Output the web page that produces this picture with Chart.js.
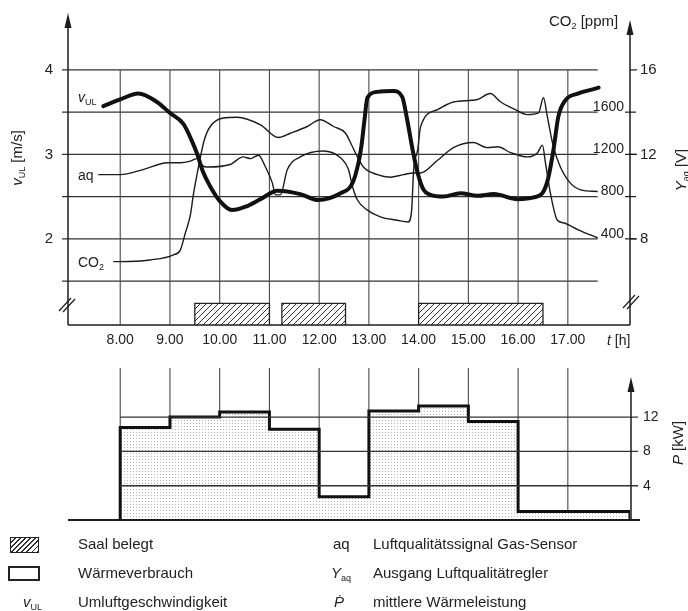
<!DOCTYPE html>
<html lang="de">
<head>
<meta charset="utf-8">
<title>Umluftgeschwindigkeit, Luftqualität und Wärmeverbrauch</title>
<script src="https://cdn.jsdelivr.net/npm/chart.js@4.4.1/dist/chart.umd.min.js"></script>
<style>
  body { margin: 0; background: #fff; }
  #wrap { position: relative; width: 688px; height: 611px; overflow: hidden;
          font-family: "Liberation Sans", Arial, sans-serif; color: #222; }
  canvas { position: absolute; left: 0; }
  .t { position: absolute; white-space: nowrap; font-size: 15px; line-height: 16px; }
  .rot { position: absolute; white-space: nowrap; font-size: 15px; line-height: 16px;
         transform: translate(-50%, -50%) rotate(-90deg); }
  sub { font-size: 9px; vertical-align: -3px; line-height: 0; }
  i { font-style: italic; }
  .box { position: absolute; box-sizing: border-box; border: 2px solid #222; }
</style>
</head>
<body>
<div id="wrap">
  <canvas id="top-chart" width="688" height="350" style="top:0"></canvas>
  <canvas id="heat-chart" width="688" height="190" style="top:350px"></canvas>

  <!-- Achsentitel -->
  <div class="rot" style="left:17px; top:158px"><i>v</i><sub>UL</sub> [m/s]</div>
  <div class="rot" style="left:681px; top:170px"><i>Y</i><sub>aq</sub> [V]</div>
  <div class="rot" style="left:678px; top:443px"><i>P</i> [kW]</div>
  <div class="t" style="left:549px; top:13px">CO<sub>2</sub> [ppm]</div>
  <div class="t" style="left:607px; top:332px; font-size:14px"><i>t</i> [h]</div>

  <!-- Kurvenbeschriftungen -->
  <div class="t" style="left:78px; top:89px; font-size:14px"><i>v</i><sub>UL</sub></div>
  <div class="t" style="left:78px; top:167px; font-size:14px">aq</div>
  <div class="t" style="left:78px; top:254px; font-size:14px">CO<sub>2</sub></div>

  <!-- Legende -->
  <div class="box" style="left:10px; top:537px; width:29px; height:16px; border-width:1.5px;
       background:repeating-linear-gradient(135deg, #fff 0 2.5px, #333 2.5px 3.6px)"></div>
  <div class="t" style="left:78px; top:536px">Saal belegt</div>
  <div class="box" style="left:8px; top:566px; width:32px; height:15px"></div>
  <div class="t" style="left:78px; top:565px">Wärmeverbrauch</div>
  <div class="t" style="left:23px; top:594px"><i>v</i><sub>UL</sub></div>
  <div class="t" style="left:78px; top:594px">Umluftgeschwindigkeit</div>

  <div class="t" style="left:333px; top:536px">aq</div>
  <div class="t" style="left:373px; top:536px">Luftqualitätssignal Gas-Sensor</div>
  <div class="t" style="left:331px; top:565px"><i>Y</i><sub>aq</sub></div>
  <div class="t" style="left:373px; top:565px">Ausgang Luftqualitätregler</div>
  <div class="t" style="left:334px; top:594px"><i>Ṗ</i></div>
  <div class="t" style="left:373px; top:594px">mittlere Wärmeleistung</div>
</div>

<script>
// Daten
const hourTicks = [8, 9, 10, 11, 12, 13, 14, 15, 16, 17];
const vTicks = [2, 3, 4];
const gridV = [1.5, 2, 2.5, 3, 3.5, 4];
const yaqTicks = [8, 12, 16];
const co2Ticks = [400, 800, 1200, 1600];
const pTicks = [4, 8, 12];

// Umluftgeschwindigkeit v_UL [m/s]
const vulTime = [7.66, 8.0, 8.36, 8.74, 9.0, 9.27, 9.44, 9.55, 9.66, 9.81, 10.0, 10.25, 10.52, 10.82,
  11.16, 11.62, 11.98, 12.43, 12.67, 12.79, 12.85, 12.91, 12.97, 13.17, 13.49, 13.67, 13.77, 13.88,
  13.98, 14.1, 14.24, 14.5, 14.84, 15.18, 15.51, 15.99, 16.31, 16.51, 16.61, 16.71, 16.81, 16.95,
  17.2, 17.5, 17.62];
const vulValue = [3.57, 3.65, 3.72, 3.62, 3.49, 3.36, 3.16, 3.0, 2.8, 2.62, 2.45, 2.34, 2.38, 2.47,
  2.57, 2.53, 2.46, 2.54, 2.66, 2.9, 3.1, 3.4, 3.67, 3.74, 3.75, 3.68, 3.41, 3.05,
  2.78, 2.58, 2.52, 2.5, 2.54, 2.51, 2.53, 2.47, 2.49, 2.56, 2.73, 3.05, 3.45, 3.64,
  3.72, 3.77, 3.79];

// Luftqualitätssignal aq [V]
const aqTime = [7.56, 8.0, 8.46, 8.95, 9.21, 9.41, 9.55, 9.65, 9.75, 10.21, 10.47, 10.62, 10.78,
  10.92, 11.06, 11.12, 11.22, 11.36, 11.62, 12.08, 12.43, 12.59, 12.67, 12.77, 12.97, 13.23, 13.57,
  13.79, 13.86, 13.9, 13.98, 14.04, 14.38, 14.7, 15.18, 15.44, 15.65, 15.91, 16.19, 16.41, 16.51,
  16.59, 16.71, 16.85, 17.05, 17.26, 17.6];
const aqValue = [11.04, 11.04, 11.28, 11.6, 11.6, 11.68, 11.8, 11.48, 11.4, 11.52, 11.88, 11.8, 11.96,
  11.4, 10.64, 10.08, 10.08, 11.28, 11.88, 12.16, 11.84, 11.28, 10.48, 9.84, 9.36, 9.04, 8.88,
  8.8, 9.36, 11.28, 12.2, 13.32, 14.12, 14.48, 14.6, 14.88, 14.48, 14.16, 13.88, 13.96, 14.68,
  13.76, 12.36, 11.4, 10.64, 10.32, 10.24];

// CO2 [ppm]
const co2Time = [7.86, 8.0, 8.6, 9.07, 9.21, 9.31, 9.41, 9.47, 9.55, 9.61, 9.69, 9.81, 10.07, 10.35,
  10.82, 11.18, 11.42, 11.76, 12.02, 12.29, 12.53, 12.67, 12.77, 12.89, 13.17, 13.43, 13.69, 13.9,
  14.04, 14.38, 14.7, 15.1, 15.38, 15.59, 15.85, 16.19, 16.39, 16.49, 16.55, 16.65, 16.79, 16.91,
  17.2, 17.6];
const co2Value = [184, 184, 200, 248, 296, 456, 624, 816, 1024, 1168, 1336, 1464, 1544, 1552,
  1480, 1360, 1400, 1464, 1528, 1464, 1400, 1272, 1176, 1080, 1008, 984, 1008, 1024,
  1024, 1144, 1264, 1312, 1264, 1272, 1216, 1176, 1216, 1288, 1120, 832, 576, 552,
  488, 408];

// Saal belegt
const occStart = [9.5, 11.25, 14.0];
const occEnd = [11.0, 12.53, 16.5];

// mittlere Wärmeleistung P [kW] je Stunde
const heatStart = [8, 9, 10, 11, 12, 13, 14, 15, 16, 17];
const heatValue = [6.3, 10.8, 12.0, 12.6, 10.6, 2.7, 12.7, 13.3, 11.5, 1.0];
const heatEnd = 18.25;

// Skalen
const HOUR_MIN = 6.95, HOUR_MAX = 18.25;
const V_MIN = 0.98, V_MAX = 4.65;
// CO2 und Y_aq liegen auf demselben Raster: ppm = 800 v - 1200, V = 4 v
const CO2_MIN = 800 * V_MIN - 1200, CO2_MAX = 800 * V_MAX - 1200;
const YAQ_MIN = 4 * V_MIN, YAQ_MAX = 4 * V_MAX;
const GRID_END = 17.6;
const OCC_TOP = 1.235;
const P_MAX = 17.73;
const INK = "#1c1c1c";

Chart.defaults.font.family = '"Liberation Sans", Arial, sans-serif';
Chart.defaults.color = "#222";
Chart.defaults.animation = false;

function pts(xs, ys) {
  return xs.map((x, i) => ({ x: x, y: ys[i] }));
}

// feste Achsbreite, keine zusätzliche Beschriftungs-Polsterung
function fixWidth(w) {
  return (s) => {
    s.width = w;
    s.paddingTop = 0;
    s.paddingBottom = 0;
  };
}

function makePattern(size, draw) {
  const c = document.createElement("canvas");
  c.width = size;
  c.height = size;
  draw(c.getContext("2d"));
  return c.getContext("2d").createPattern(c, "repeat");
}

const hatch = makePattern(6, (g) => {
  g.fillStyle = "#fff";
  g.fillRect(0, 0, 6, 6);
  g.strokeStyle = "#333";
  g.lineWidth = 1;
  g.beginPath();
  g.moveTo(0, 6); g.lineTo(6, 0);
  g.moveTo(-3, 3); g.lineTo(3, -3);
  g.moveTo(3, 9); g.lineTo(9, 3);
  g.stroke();
});

const dots = makePattern(3, (g) => {
  g.fillStyle = "#fff";
  g.fillRect(0, 0, 3, 3);
  g.fillStyle = "#b4b4b4";
  g.fillRect(1, 1, 1, 1);
});

function line(ctx, x1, y1, x2, y2) {
  ctx.beginPath();
  ctx.moveTo(x1, y1);
  ctx.lineTo(x2, y2);
  ctx.stroke();
}

function arrowUp(ctx, x, yFrom, yTip) {
  line(ctx, x, yFrom, x, yTip + 8);
  ctx.beginPath();
  ctx.moveTo(x, yTip);
  ctx.lineTo(x - 3.5, yTip + 15);
  ctx.lineTo(x + 3.5, yTip + 15);
  ctx.closePath();
  ctx.fill();
}

function breakMark(ctx, x, y) {
  ctx.save();
  ctx.lineWidth = 1.2;
  line(ctx, x - 9, y + 6, x + 3, y - 7);
  line(ctx, x - 5, y + 7, x + 7, y - 6);
  ctx.restore();
}

// Raster, Achsen und CO2-Skala oben
const topDecor = {
  id: "topDecor",
  beforeDatasetsDraw(chart) {
    const { ctx, chartArea: a, scales: { x, y } } = chart;
    ctx.save();
    ctx.strokeStyle = "#333";
    ctx.lineWidth = 1.4;
    const xEnd = x.getPixelForValue(GRID_END);
    gridV.forEach((v) => {
      const py = y.getPixelForValue(v);
      line(ctx, a.left - 6, py, xEnd, py);
    });
    ctx.strokeStyle = "#4a4a4a";
    ctx.lineWidth = 1.1;
    hourTicks.forEach((h) => {
      const px = x.getPixelForValue(h);
      line(ctx, px, y.getPixelForValue(4), px, a.bottom);
    });
    ctx.restore();
  },
  afterDatasetsDraw(chart) {
    const { ctx, chartArea: a, scales: { yC, yY } } = chart;
    ctx.save();
    ctx.strokeStyle = INK;
    ctx.fillStyle = INK;
    ctx.lineWidth = 1.5;
    arrowUp(ctx, a.left, a.bottom, a.top - 2);
    arrowUp(ctx, a.right, a.bottom, a.top + 5);
    line(ctx, a.left, a.bottom, a.right, a.bottom);
    breakMark(ctx, a.left, a.bottom - 20);
    breakMark(ctx, a.right + 2, a.bottom - 23);

    ctx.lineWidth = 1.2;
    yaqTicks.forEach((v) => {
      const py = yY.getPixelForValue(v);
      line(ctx, a.right, py, a.right + 7, py);
    });
    ctx.font = '14px "Liberation Sans", Arial, sans-serif';
    ctx.textAlign = "right";
    ctx.textBaseline = "middle";
    co2Ticks.forEach((c) => {
      const py = yC.getPixelForValue(c);
      line(ctx, a.right - 5, py, a.right + 6, py);
      ctx.fillText(String(c), a.right - 6, py - 5);
    });
    ctx.restore();
  },
};

// Raster und Achsen unten
const heatDecor = {
  id: "heatDecor",
  beforeDatasetsDraw(chart) {
    const { ctx, chartArea: a, scales: { x, yP } } = chart;
    ctx.save();
    ctx.strokeStyle = "#4a4a4a";
    ctx.lineWidth = 1.1;
    hourTicks.forEach((h) => {
      const px = x.getPixelForValue(h);
      line(ctx, px, a.top, px, yP.getPixelForValue(0));
    });
    ctx.restore();
  },
  afterDatasetsDraw(chart) {
    const { ctx, chartArea: a, scales: { x, yP } } = chart;
    ctx.save();
    ctx.strokeStyle = "#333";
    ctx.lineWidth = 1.4;
    pTicks.forEach((v) => {
      const py = yP.getPixelForValue(v);
      line(ctx, x.getPixelForValue(8), py, a.right + 8, py);
    });
    ctx.strokeStyle = INK;
    ctx.fillStyle = INK;
    ctx.lineWidth = 1.8;
    const y0 = yP.getPixelForValue(0);
    line(ctx, a.left, y0, a.right + 10, y0);
    ctx.lineWidth = 1.5;
    arrowUp(ctx, a.right + 1, y0, a.top + 9);
    ctx.restore();
  },
};

const thin = {
  borderColor: INK,
  borderWidth: 1.4,
  pointRadius: 0,
  fill: false,
  cubicInterpolationMode: "monotone",
};

new Chart(document.getElementById("top-chart"), {
  type: "line",
  data: {
    datasets: [
      {
        data: pts(vulTime, vulValue),
        yAxisID: "y",
        borderColor: "#111",
        borderWidth: 4,
        borderJoinStyle: "round",
        borderCapStyle: "round",
        pointRadius: 0,
        fill: false,
        cubicInterpolationMode: "monotone",
      },
      Object.assign({ data: pts(aqTime, aqValue), yAxisID: "yY" }, thin),
      Object.assign({ data: pts(co2Time, co2Value), yAxisID: "yC" }, thin),
      ...occStart.map((s, i) => ({
        data: [
          { x: s, y: V_MIN },
          { x: s, y: OCC_TOP },
          { x: occEnd[i], y: OCC_TOP },
          { x: occEnd[i], y: V_MIN },
        ],
        yAxisID: "y",
        borderColor: "#222",
        borderWidth: 1.3,
        backgroundColor: hatch,
        fill: "start",
        pointRadius: 0,
        tension: 0,
      })),
    ],
  },
  options: {
    responsive: false,
    layout: { padding: { top: 15, left: 0, right: 0, bottom: 0 } },
    plugins: { legend: { display: false }, tooltip: { enabled: false } },
    scales: {
      x: {
        type: "linear",
        min: HOUR_MIN,
        max: HOUR_MAX,
        grid: { display: false, drawTicks: false },
        border: { display: false },
        afterBuildTicks: (s) => { s.ticks = hourTicks.map((v) => ({ value: v })); },
        afterFit: (s) => { s.height = 25; s.paddingLeft = 0; s.paddingRight = 0; },
        ticks: { padding: 7, font: { size: 14 }, maxRotation: 0, autoSkip: false,
                 callback: (v) => v + ".00" },
      },
      y: {
        position: "left",
        min: V_MIN,
        max: V_MAX,
        grid: { display: false, drawTicks: false },
        border: { display: false },
        afterBuildTicks: (s) => { s.ticks = vTicks.map((v) => ({ value: v })); },
        afterFit: fixWidth(68),
        ticks: { padding: 15, font: { size: 15 } },
      },
      yC: { position: "right", display: false, min: CO2_MIN, max: CO2_MAX },
      yY: {
        position: "right",
        min: YAQ_MIN,
        max: YAQ_MAX,
        grid: { display: false, drawTicks: false },
        border: { display: false },
        afterBuildTicks: (s) => { s.ticks = yaqTicks.map((v) => ({ value: v })); },
        afterFit: fixWidth(58),
        ticks: { padding: 10, font: { size: 15 } },
      },
    },
  },
  plugins: [topDecor],
});

// Treppenkurve Wärmeverbrauch
const heatPoints = [{ x: heatStart[0], y: 0 }]
  .concat(pts(heatStart, heatValue))
  .concat([{ x: heatEnd, y: heatValue[heatValue.length - 1] }, { x: heatEnd, y: 0 }]);

new Chart(document.getElementById("heat-chart"), {
  type: "line",
  data: {
    datasets: [
      {
        data: heatPoints,
        yAxisID: "yP",
        stepped: "after",
        borderColor: "#111",
        borderWidth: 3,
        backgroundColor: dots,
        fill: "origin",
        pointRadius: 0,
      },
    ],
  },
  options: {
    responsive: false,
    layout: { padding: { top: 18, left: 68, right: 0, bottom: 20 } },
    plugins: { legend: { display: false }, tooltip: { enabled: false } },
    scales: {
      x: { type: "linear", display: false, min: HOUR_MIN, max: HOUR_MAX },
      yP: {
        position: "right",
        min: 0,
        max: P_MAX,
        grid: { display: false, drawTicks: false },
        border: { display: false },
        afterBuildTicks: (s) => { s.ticks = pTicks.map((v) => ({ value: v })); },
        afterFit: fixWidth(58),
        ticks: { padding: 13, font: { size: 14 } },
      },
    },
  },
  plugins: [heatDecor],
});
</script>
</body>
</html>
